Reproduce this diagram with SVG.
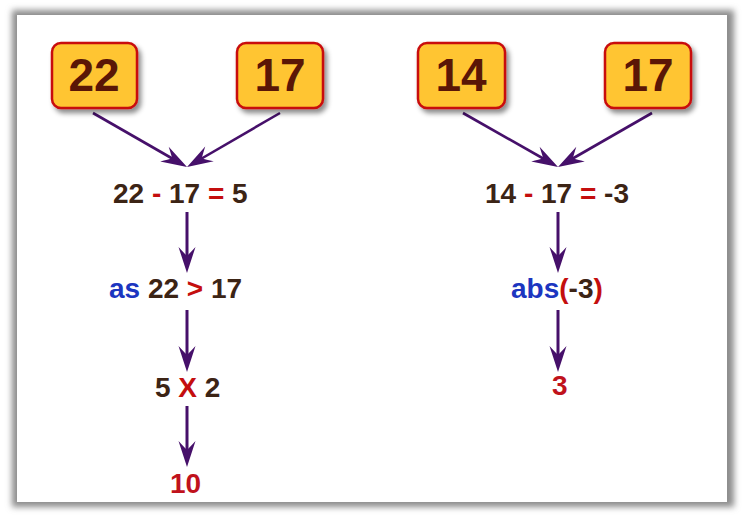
<svg xmlns="http://www.w3.org/2000/svg" width="745" height="518" viewBox="0 0 745 518">
<defs>
<filter id="frameShadow" x="-5%" y="-5%" width="110%" height="110%"><feGaussianBlur stdDeviation="3"/></filter>
<filter id="boxShadow" x="-20%" y="-20%" width="150%" height="150%"><feDropShadow dx="3" dy="4" stdDeviation="2.5" flood-color="#000" flood-opacity="0.45"/></filter>
<marker id="arr" viewBox="-34 -10 36 20" refX="-6" refY="0" markerWidth="36" markerHeight="20" markerUnits="userSpaceOnUse" orient="auto">
<path d="M0,0 L-26,-8.5 Q-20,-3 -17,0 Q-20,3 -26,8.5 Z" fill="#46106a"/>
</marker>
</defs>
<style>
.box{fill:#ffc533;stroke:#c80a0a;stroke-width:2.5}
.bt{font-family:"Liberation Sans",Arial,sans-serif;font-weight:bold;font-size:46px;fill:#5a1606;text-anchor:middle}
.ex{font-family:"Liberation Sans",Arial,sans-serif;font-weight:bold;font-size:28px;fill:#3c2415}
.r{fill:#c40e0e}
.b{fill:#1c36c0}
.res{fill:#c0121c}
.ln{fill:none;stroke:#46106a;stroke-width:2.6;marker-end:url(#arr)}
.vl{fill:none;stroke:#46106a;stroke-width:3;marker-end:url(#arr)}
</style>
<rect x="12" y="10" width="722" height="497" fill="#8c8c8c" filter="url(#frameShadow)"/>
<rect x="17" y="15" width="710" height="487" fill="#ffffff"/>
<g id="connectors">
<path class="ln" d="M93,113 L181.8,164"/>
<path class="ln" d="M280,113 L192.2,164"/>
<path class="ln" d="M463,113 L552.8,164"/>
<path class="ln" d="M652,113 L563.2,164"/>
<path class="vl" d="M187,212 L187,267"/>
<path class="vl" d="M187,310 L187,366"/>
<path class="vl" d="M187,406 L187,461"/>
<path class="vl" d="M558,212 L558,267"/>
<path class="vl" d="M558,310 L558,366"/>
</g>
<g id="box22"><rect class="box" x="52" y="43" width="85" height="65" rx="9" filter="url(#boxShadow)"/><text class="bt" x="94" y="91">22</text></g>
<g id="box17a"><rect class="box" x="237" y="43" width="86" height="65" rx="9" filter="url(#boxShadow)"/><text class="bt" x="280" y="91">17</text></g>
<g id="box14"><rect class="box" x="418" y="43" width="87" height="65" rx="9" filter="url(#boxShadow)"/><text class="bt" x="461" y="91">14</text></g>
<g id="box17b"><rect class="box" x="605" y="43" width="86" height="65" rx="9" filter="url(#boxShadow)"/><text class="bt" x="648" y="91">17</text></g>
<g id="expr1"><text class="ex" x="113" y="203">22 <tspan class="r">-</tspan> 17 <tspan class="r">=</tspan> 5</text></g>
<g id="expr2"><text class="ex" x="109" y="298"><tspan class="b">as</tspan> 22 <tspan class="r">&gt;</tspan> 17</text></g>
<g id="expr3"><text class="ex" x="155" y="397">5 <tspan class="r">X</tspan> 2</text></g>
<g id="res1"><text class="ex res" x="170" y="493">10</text></g>
<g id="expr4"><text class="ex" x="485" y="203">14 <tspan class="r">-</tspan> 17 <tspan class="r">=</tspan> -3</text></g>
<g id="expr5"><text class="ex" x="511" y="298"><tspan class="b">abs</tspan><tspan class="r">(</tspan>-3<tspan class="r">)</tspan></text></g>
<g id="res2"><text class="ex res" x="552" y="395">3</text></g>
</svg>
